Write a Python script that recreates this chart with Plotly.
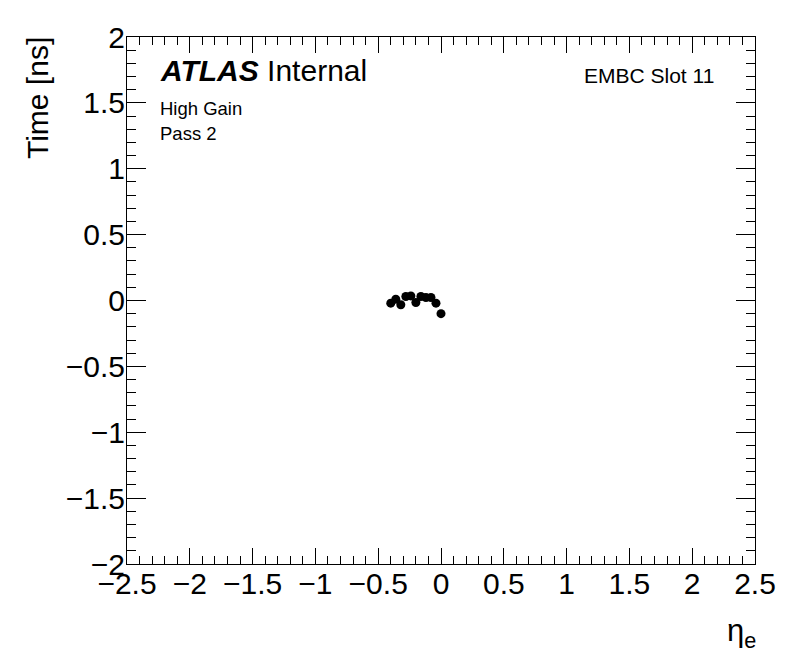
import plotly.graph_objects as go

eta = [-0.40, -0.36, -0.32, -0.28, -0.24, -0.20, -0.16, -0.12, -0.08, -0.04, 0.00]
time_ns = [-0.020, 0.010, -0.032, 0.030, 0.035, -0.015, 0.030, 0.023, 0.023, -0.020, -0.100]

xticks = [-2.5, -2, -1.5, -1, -0.5, 0, 0.5, 1, 1.5, 2, 2.5]
yticks = [-2, -1.5, -1, -0.5, 0, 0.5, 1, 1.5, 2]

def lab(v):
    s = ("%g" % v)
    return s.replace("-", "\u2212")

FONT = "Liberation Sans, Arial, Helvetica, sans-serif"

fig = go.Figure()
fig.add_trace(go.Scatter(x=eta, y=time_ns, mode="markers",
                         marker=dict(color="black", size=9, symbol="circle"),
                         showlegend=False))

axis_common = dict(showgrid=False, zeroline=False, showline=True, linecolor="black",
                   linewidth=1, ticks="inside", mirror="allticks", tickcolor="black",
                   tickwidth=1, tickfont=dict(family=FONT, size=30, color="black"))

fig.update_layout(
    width=780, height=656,
    margin=dict(l=119, r=32, t=26, b=100),
    paper_bgcolor="white", plot_bgcolor="white",
    xaxis=dict(range=[-2.5, 2.5], tickvals=xticks, ticktext=[lab(v) for v in xticks],
               ticklen=16, ticklabelstandoff=-7,
               minor=dict(dtick=0.1, ticklen=8, ticks="inside", tickcolor="black"),
               **axis_common),
    yaxis=dict(range=[-2, 2], tickvals=yticks, ticktext=[lab(v) for v in yticks],
               ticklen=19, ticklabelstandoff=-5,
               minor=dict(dtick=0.1, ticklen=9, ticks="inside", tickcolor="black"),
               **axis_common),
)

def ann(text, x, y, size, xanchor="left", yanchor="middle", angle=0):
    fig.add_annotation(text=text, x=x, y=y, xref="paper", yref="paper",
                       xanchor=xanchor, yanchor=yanchor, showarrow=False, textangle=angle,
                       font=dict(family=FONT, size=size, color="black"))

ann("<b><i>ATLAS</i></b> Internal", 0.050, 0.936, 30)
ann("High Gain", 0.050, 0.864, 18.5)
ann("Pass 2", 0.050, 0.817, 18.5)
ann("EMBC Slot 11", 0.938, 0.926, 21, xanchor="right")
ann("\u03b7<sub>e</sub>", 1.004, -0.13, 31, xanchor="right")
ann("Time [ns]", -0.1415, 1.004, 30, xanchor="center", yanchor="top", angle=-90)

fig.write_html("out.html")
